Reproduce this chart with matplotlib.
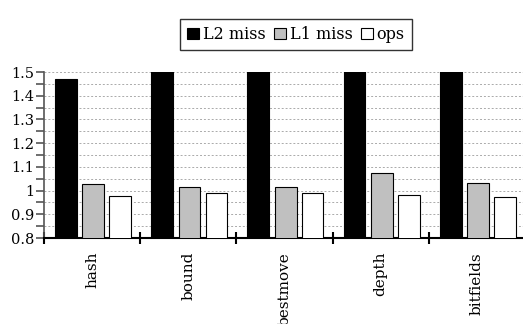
import numpy as np
import matplotlib.pyplot as plt
from matplotlib.ticker import MultipleLocator

categories = ["hash", "bound", "bestmove", "depth", "bitfields"]
l2_miss = [1.47, 1.60, 1.60, 1.60, 1.60]   # all but hash go off the top of the chart
l1_miss = [1.027, 1.017, 1.017, 1.072, 1.031]
ops = [0.978, 0.989, 0.989, 0.980, 0.975]

plt.rcParams["font.family"] = ["DejaVu Serif"]
plt.rcParams["font.size"] = 10

fig = plt.figure(figsize=(5.23, 3.24), dpi=100)
W, H = 523, 324
ax = fig.add_axes([44 / W, 1 - 238 / H, (525 - 44) / W, (238 - 72) / H])

x = np.arange(len(categories))
bw = 0.225
ax.bar(x + 0.115, l2_miss, bw, align="edge", color="black",
       edgecolor="black", linewidth=0.8, label="L2 miss", zorder=3)
ax.bar(x + 0.40, l1_miss, bw, align="edge", color="#c0c0c0",
       edgecolor="black", linewidth=0.8, label="L1 miss", zorder=3)
ax.bar(x + 0.68, ops, bw, align="edge", color="white",
       edgecolor="black", linewidth=0.8, label="ops", zorder=3)

ax.set_xlim(0, len(categories))
ax.set_ylim(0.8, 1.5)

ax.yaxis.set_minor_locator(MultipleLocator(0.05))
ax.set_yticks([0.8, 0.9, 1.0, 1.1, 1.2, 1.3, 1.4, 1.5])
ax.set_yticklabels(["0.8", "0.9", "1", "1.1", "1.2", "1.3", "1.4", "1.5"],
                   fontsize=10.5)
ax.tick_params(axis="y", which="both", direction="out", length=6, width=1.2,
               color="#555555", pad=1)
ax.grid(axis="y", which="both", color="#aaaaaa", linestyle=(0, (2, 2)),
        linewidth=0.7, zorder=0)

# group boundaries get tick marks, names sit in the middle
ax.set_xticks(x, minor=False)
ax.set_xticklabels([])
ax.set_xticks(x + 0.5, minor=True)
ax.set_xticklabels(categories, minor=True, rotation=90, va="top", fontsize=11)
ax.tick_params(axis="x", which="major", direction="inout", length=8, width=1.5)
ax.tick_params(axis="x", which="minor", length=0, pad=10)

for s in ["top", "right"]:
    ax.spines[s].set_visible(False)
ax.spines["left"].set_color("#555555")
ax.spines["left"].set_linewidth(1.2)
ax.spines["bottom"].set_linewidth(1.5)

leg = fig.legend(loc="upper center", bbox_to_anchor=(296 / W, 1 - 19 / H),
                 ncol=3, frameon=True, fancybox=False, edgecolor="black",
                 handlelength=0.75, handleheight=0.75, handletextpad=0.25,
                 columnspacing=0.5, borderpad=0.45, borderaxespad=0,
                 fontsize=11.5)
leg.get_frame().set_linewidth(1.0)

fig.savefig("out.png", dpi=100)
